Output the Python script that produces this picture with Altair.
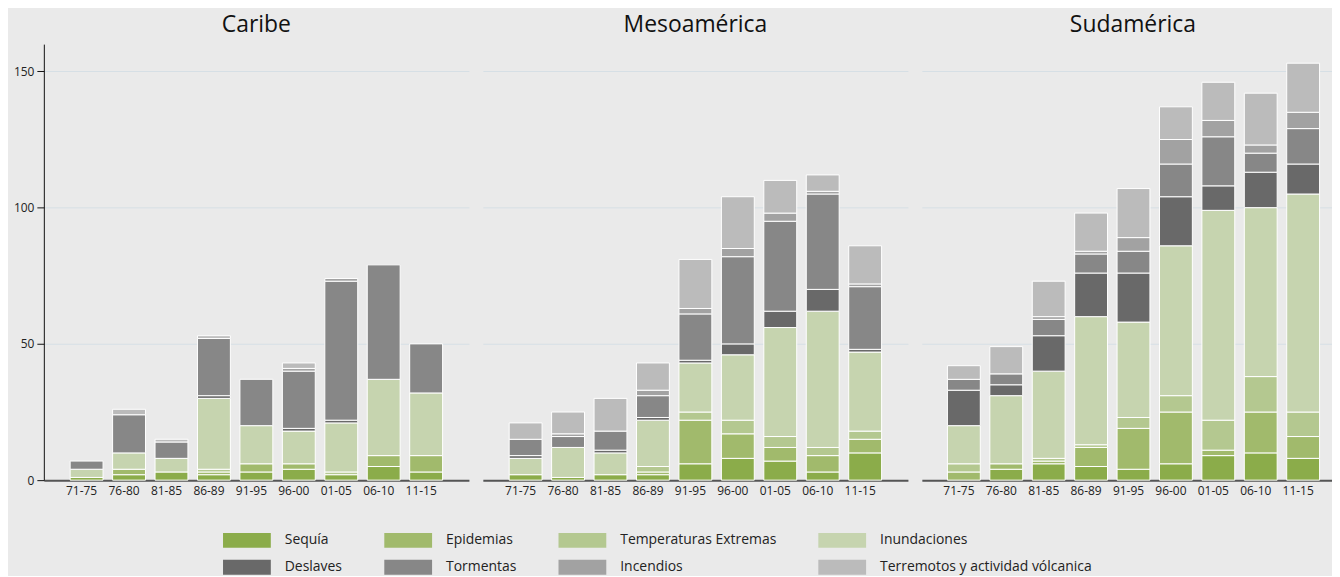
import altair as alt
import pandas as pd

periods = ["71-75", "76-80", "81-85", "86-89", "91-95", "96-00", "01-05", "06-10", "11-15"]
regions = ["Caribe", "Mesoamérica", "Sudamérica"]
categories = ["Sequía", "Epidemias", "Temperaturas Extremas", "Inundaciones",
              "Deslaves", "Tormentas", "Incendios", "Terremotos y actividad vólcanica"]
colors = ["#8BAC4A", "#A1BA6C", "#B4C890", "#C6D4AF", "#696969", "#878787", "#A2A2A2", "#BBBBBB"]

caribe_sequia = [1, 2, 3, 2, 3, 4, 2, 5, 3]
caribe_epidemias = [0, 2, 0, 1, 3, 2, 0, 4, 6]
caribe_temperaturas = [0, 0, 0, 1, 0, 0, 1, 0, 0]
caribe_inundaciones = [3, 6, 5, 26, 14, 12, 18, 28, 23]
caribe_deslaves = [0, 0, 0, 1, 0, 1, 1, 0, 0]
caribe_tormentas = [3, 14, 6, 21, 17, 21, 51, 42, 18]
caribe_incendios = [0, 0, 0, 0, 0, 1, 1, 0, 0]
caribe_terremotos = [0, 2, 1, 1, 0, 2, 0, 0, 0]

meso_sequia = [2, 1, 2, 2, 6, 8, 7, 3, 10]
meso_epidemias = [0, 0, 0, 1, 16, 9, 5, 6, 5]
meso_temperaturas = [0, 0, 0, 2, 3, 5, 4, 3, 3]
meso_inundaciones = [6, 11, 8, 17, 18, 24, 40, 50, 29]
meso_deslaves = [1, 0, 1, 1, 1, 4, 6, 8, 1]
meso_tormentas = [6, 4, 7, 8, 17, 32, 33, 35, 23]
meso_incendios = [0, 1, 0, 2, 2, 3, 3, 1, 1]
meso_terremotos = [6, 8, 12, 10, 18, 19, 12, 6, 14]

sud_sequia = [0, 4, 6, 5, 4, 6, 9, 10, 8]
sud_epidemias = [3, 2, 1, 7, 15, 19, 2, 15, 8]
sud_temperaturas = [3, 0, 1, 1, 4, 6, 11, 13, 9]
sud_inundaciones = [14, 25, 32, 47, 35, 55, 77, 62, 80]
sud_deslaves = [13, 4, 13, 16, 18, 18, 9, 13, 11]
sud_tormentas = [4, 4, 6, 7, 8, 12, 18, 7, 13]
sud_incendios = [0, 0, 1, 1, 5, 9, 6, 3, 6]
sud_terremotos = [5, 10, 13, 14, 18, 12, 14, 19, 18]

series = {
    "Caribe": [caribe_sequia, caribe_epidemias, caribe_temperaturas, caribe_inundaciones,
               caribe_deslaves, caribe_tormentas, caribe_incendios, caribe_terremotos],
    "Mesoamérica": [meso_sequia, meso_epidemias, meso_temperaturas, meso_inundaciones,
                    meso_deslaves, meso_tormentas, meso_incendios, meso_terremotos],
    "Sudamérica": [sud_sequia, sud_epidemias, sud_temperaturas, sud_inundaciones,
                   sud_deslaves, sud_tormentas, sud_incendios, sud_terremotos],
}

rows = []
for region in regions:
    for ci, (cat, vals) in enumerate(zip(categories, series[region])):
        for p, v in zip(periods, vals):
            if v > 0:
                rows.append({"region": region, "period": p, "category": cat, "idx": ci, "value": v})
df = pd.DataFrame(rows)

color_enc = alt.Color(
    "category:N", sort=categories,
    scale=alt.Scale(domain=categories, range=colors),
    legend=alt.Legend(title=None, orient="none", legendX=180, legendY=491,
                      direction="horizontal", columns=4,
                      symbolType="M-1,-1H5.4V1H-1Z", symbolSize=225,
                      symbolStrokeWidth=0, symbolOpacity=1,
                      labelOffset=47, labelFontSize=14, labelFont="Open Sans",
                      labelLimit=400, labelColor="#222222", columnPadding=42, rowPadding=12))


def panel(region, width, pad_outer, align, first, title_dx):
    if first:
        yaxis = alt.Axis(values=[0, 50, 100, 150], domainColor="#111111", tickColor="#111111",
                         tickSize=7, labelPadding=3, labelFontSize=12, labelColor="#222222",
                         labelFont="Open Sans", gridColor="#D6DFE5", gridWidth=1)
    else:
        yaxis = alt.Axis(values=[0, 50, 100, 150], labels=False, ticks=False, domain=False,
                         gridColor="#D6DFE5", gridWidth=1)
    return alt.Chart(df).transform_filter(alt.datum.region == region).mark_bar(
        stroke="#FFFFFF", strokeWidth=1
    ).encode(
        x=alt.X("period:N", sort=periods, title=None,
                scale=alt.Scale(paddingInner=0.225, paddingOuter=pad_outer, align=align),
                axis=alt.Axis(labelAngle=0, ticks=False, domainColor="#555555", domainWidth=2,
                              labelFontSize=12, labelColor="#222222", labelPadding=5,
                              labelOffset=-5, labelFont="Open Sans", grid=False)),
        y=alt.Y("value:Q", stack="zero", title=None,
                scale=alt.Scale(domain=[0, 160], nice=False), axis=yaxis),
        color=color_enc,
        order=alt.Order("idx:Q", sort="ascending"),
    ).properties(
        width=width, height=438,
        title=alt.TitleParams(region, fontSize=23, font="Open Sans", fontWeight="normal",
                              color="#111111", offset=7, frame="group", anchor="middle",
                              dx=title_dx),
    )


p1 = panel("Caribe", 427, 0.62, 0.5, True, 0)
p2 = panel("Mesoamérica", 427, 0.62, 0.5, False, 0)
p3 = panel("Sudamérica", 412, 0.448, 0.673, False, 6)

chart = alt.hconcat(p1, p2, p3, spacing=14).resolve_scale(
    x="independent", y="independent", color="shared"
).properties(
    padding={"left": 5, "top": 5, "right": 0, "bottom": 0}
).configure(background="#EAEAEA").configure_view(stroke=None)

chart.save("out.html", embed_options={"renderer": "svg", "actions": False})
